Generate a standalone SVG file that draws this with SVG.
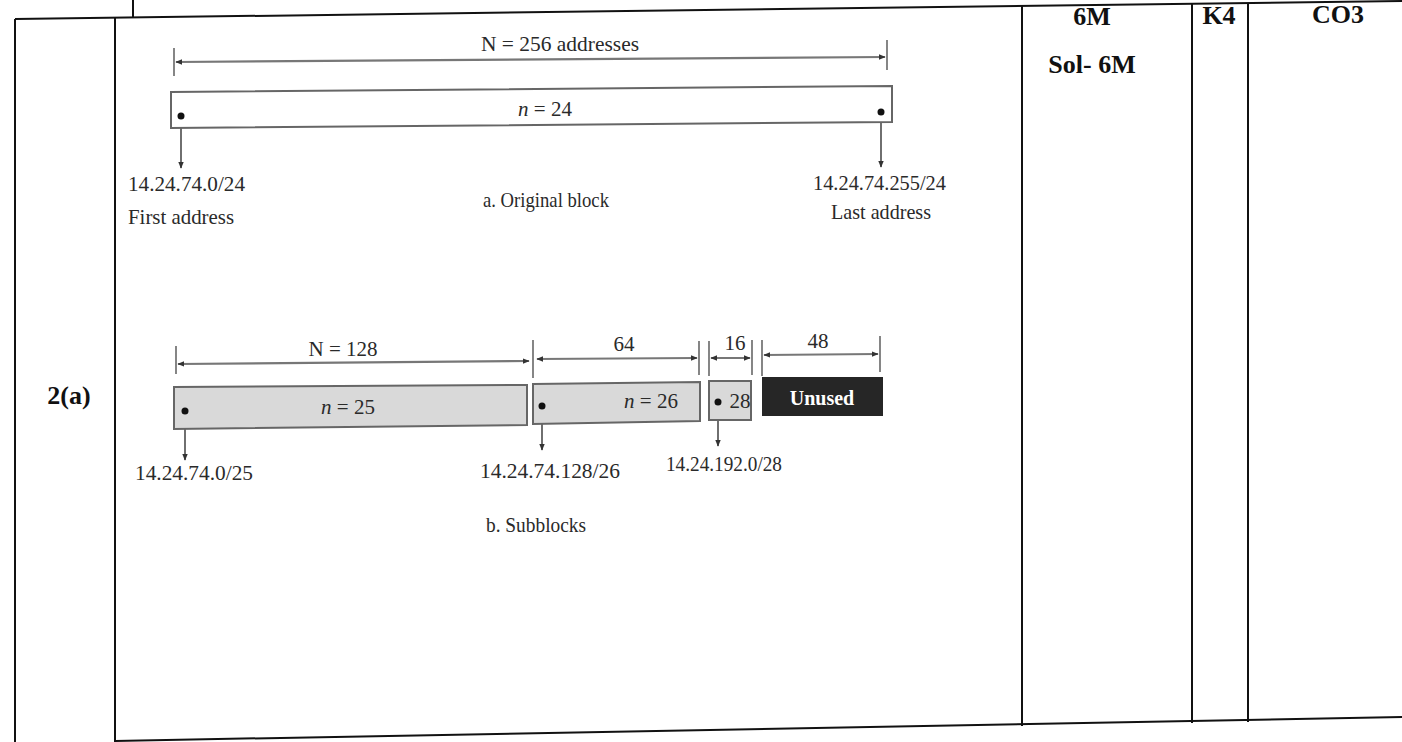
<svg xmlns="http://www.w3.org/2000/svg" width="1402" height="742" viewBox="0 0 1402 742">
<style>
.tb{stroke:#111;stroke-width:2;fill:none}
.hd{font-family:"Liberation Serif",serif;font-weight:bold;font-size:26px;fill:#111;text-anchor:middle}
.t{font-family:"Liberation Serif",serif;font-size:21px;fill:#2a2a2a}
.c{text-anchor:middle}
.dim{stroke:#777;stroke-width:2.2;fill:none}
.tick{stroke:#444;stroke-width:1.3}
.box{stroke:#666;stroke-width:2;fill:#fff}
.gbox{stroke:#666;stroke-width:2;fill:#d9d9d9}
.ptr{stroke:#333;stroke-width:1.4}
</style>
<defs>
<marker id="ah" viewBox="0 0 10 10" refX="9" refY="5" markerWidth="7" markerHeight="7" orient="auto-start-reverse" markerUnits="userSpaceOnUse">
<path d="M0,1 L10,5 L0,9 Z" fill="#333"/>
</marker>
</defs>
<rect width="1402" height="742" fill="#fff"/>

<g id="table">
<line class="tb" x1="15" y1="19" x2="1402" y2="1"/>
<line class="tb" x1="133" y1="0" x2="133" y2="18"/>
<line class="tb" x1="15" y1="19" x2="15" y2="742"/>
<line class="tb" x1="115" y1="18" x2="115" y2="742"/>
<line class="tb" x1="1022" y1="6" x2="1022" y2="726"/>
<line class="tb" x1="1192" y1="4" x2="1192" y2="723"/>
<line class="tb" x1="1248" y1="3" x2="1248" y2="722"/>
<line class="tb" x1="115" y1="741" x2="1402" y2="717"/>
<text class="hd" x="1092" y="25">6M</text>
<text class="hd" x="1219" y="24">K4</text>
<text class="hd" x="1338" y="23">CO3</text>
<text class="hd" x="1092" y="73">Sol- 6M</text>
<text class="hd" x="69" y="404" font-size="27">2(a)</text>
</g>

<g id="connectors">
<line class="tick" x1="174" y1="48" x2="174" y2="76"/>
<line class="tick" x1="887" y1="40" x2="887" y2="70"/>
<line class="dim" x1="176" y1="62" x2="885" y2="57" marker-start="url(#ah)" marker-end="url(#ah)"/>
<line class="ptr" x1="181" y1="116" x2="181" y2="168" marker-end="url(#ah)"/>
<line class="ptr" x1="881" y1="113" x2="881" y2="167" marker-end="url(#ah)"/>

<line class="tick" x1="176" y1="346" x2="176" y2="374"/>
<line class="tick" x1="533" y1="340" x2="533" y2="378"/>
<line class="dim" x1="178" y1="364" x2="529" y2="361" marker-start="url(#ah)" marker-end="url(#ah)"/>
<line class="tick" x1="699" y1="341" x2="699" y2="375"/>
<line class="dim" x1="537" y1="359" x2="697" y2="358" marker-start="url(#ah)" marker-end="url(#ah)"/>
<line class="tick" x1="709" y1="341" x2="709" y2="376"/>
<line class="tick" x1="752" y1="340" x2="752" y2="375"/>
<line class="dim" x1="711" y1="358" x2="750" y2="358" marker-start="url(#ah)" marker-end="url(#ah)"/>
<line class="tick" x1="762" y1="340" x2="762" y2="376"/>
<line class="tick" x1="880" y1="336" x2="880" y2="372"/>
<line class="dim" x1="764" y1="355" x2="878" y2="354" marker-start="url(#ah)" marker-end="url(#ah)"/>
<line class="ptr" x1="185" y1="411" x2="185" y2="460" marker-end="url(#ah)"/>
<line class="ptr" x1="542" y1="406" x2="542" y2="450" marker-end="url(#ah)"/>
<line class="ptr" x1="718" y1="402" x2="718" y2="446" marker-end="url(#ah)"/>
</g>

<g id="original-block">
<text class="t c" x="560" y="51" textLength="158" lengthAdjust="spacingAndGlyphs">N = 256 addresses</text>
<path class="box" d="M171,92 L892,86 L892,122 L171,128 Z"/>
<text class="t c" x="545" y="116"><tspan font-style="italic">n</tspan> = 24</text>
<circle cx="181" cy="116" r="3.5" fill="#111"/>
<circle cx="881" cy="112" r="3.5" fill="#111"/>
<text class="t" x="128" y="191" textLength="117" lengthAdjust="spacingAndGlyphs">14.24.74.0/24</text>
<text class="t" x="128" y="224" textLength="106" lengthAdjust="spacingAndGlyphs">First address</text>
<text class="t c" x="546" y="207" textLength="126" lengthAdjust="spacingAndGlyphs">a. Original block</text>
<text class="t" x="813" y="190" textLength="133" lengthAdjust="spacingAndGlyphs">14.24.74.255/24</text>
<text class="t" x="831" y="219" textLength="100" lengthAdjust="spacingAndGlyphs">Last address</text>
</g>

<g id="subblocks">
<text class="t c" x="343" y="356">N = 128</text>
<path class="gbox" d="M174,387 L527,385 L527,425 L174,429 Z"/>
<text class="t c" x="348" y="414"><tspan font-style="italic">n</tspan> = 25</text>
<circle cx="185" cy="411" r="3.5" fill="#111"/>

<text class="t c" x="624" y="351">64</text>
<path class="gbox" d="M533,384 L700,382 L700,421 L533,424 Z"/>
<text class="t c" x="651" y="408"><tspan font-style="italic">n</tspan> = 26</text>
<circle cx="542" cy="406" r="3.5" fill="#111"/>

<text class="t c" x="735" y="350">16</text>
<rect class="gbox" x="709" y="381" width="42" height="39"/>
<text class="t c" x="740" y="408">28</text>
<circle cx="718" cy="402" r="3.5" fill="#111"/>

<text class="t c" x="818" y="348">48</text>
<rect x="762" y="377" width="121" height="39" fill="#262626"/>
<text x="822" y="405" font-family="Liberation Serif, serif" font-weight="bold" font-size="20" fill="#fff" text-anchor="middle">Unused</text>

<text class="t" x="135" y="480" textLength="118" lengthAdjust="spacingAndGlyphs">14.24.74.0/25</text>
<text class="t" x="480" y="478" textLength="140" lengthAdjust="spacingAndGlyphs">14.24.74.128/26</text>
<text class="t" x="666" y="471" textLength="116" lengthAdjust="spacingAndGlyphs">14.24.192.0/28</text>
<text class="t c" x="536" y="532" textLength="100" lengthAdjust="spacingAndGlyphs">b. Subblocks</text>
</g>
</svg>
